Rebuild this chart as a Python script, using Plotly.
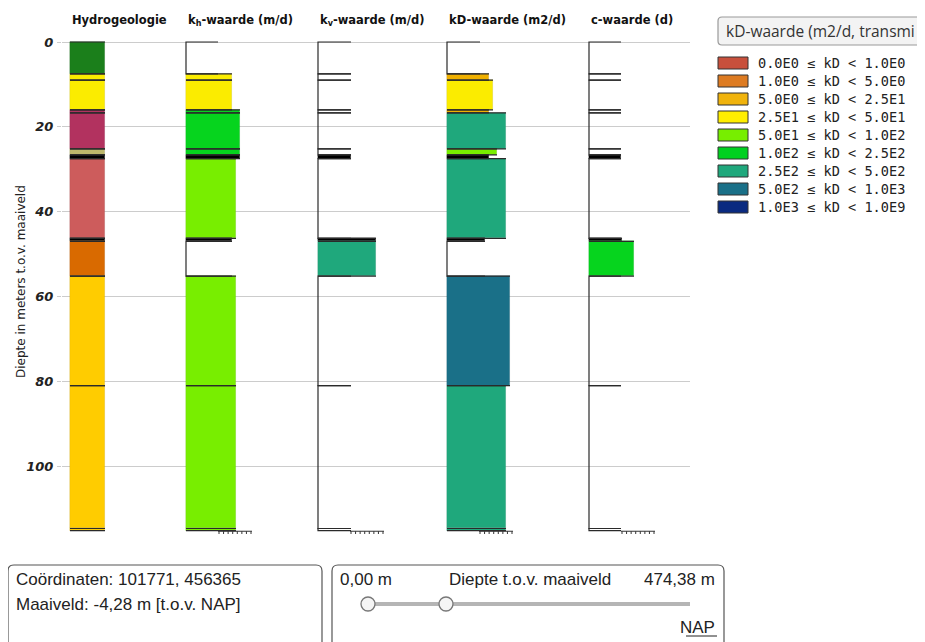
import plotly.graph_objects as go
import numpy as np

# ---------------- data ----------------
layer_top = [0.0, 7.5, 9.0, 16.0, 16.7, 25.2, 26.6, 27.5, 46.3, 47.0, 55.2, 81.0, 114.7]
layer_bot = [7.5, 9.0, 16.0, 16.7, 25.2, 26.6, 27.5, 46.3, 47.0, 55.2, 81.0, 114.7, 115.2]

column_titles = ["Hydrogeologie", "k<sub>h</sub>-waarde (m/d)", "k<sub>v</sub>-waarde (m/d)",
                 "kD-waarde (m2/d)", "c-waarde (d)"]
column_left = [70, 186, 318, 447, 589]

hydro_colors = ["#1b7f1b", "#fbec00", "#fbec00", "#b2325f", "#b2325f", "#bdb86c", "#000000",
                "#cd5c5c", "#000000", "#d96a00", "#ffcc00", "#ffcc00", "#ffcc00"]
hydro_len = [35] * 13

kh_colors = ["white", "#fbec00", "#fbec00", "#06d41e", "#06d41e", "#06d41e", "#000000",
             "#78ee00", "#000000", "white", "#78ee00", "#78ee00", "#78ee00"]
kh_len = [32, 46, 46, 54, 54, 54, 54, 50, 46, 46, 50, 50, 50]

kv_colors = ["white", "white", "white", "white", "white", "white", "#000000",
             "white", "#000000", "#1fa87c", "white", "white", "white"]
kv_len = [33, 33, 33, 33, 33, 33, 33, 33, 58, 58, 33, 33, 33]

kd_colors = ["white", "#f0b000", "#fbec00", "#f0b000", "#1fa87c", "#78ee00", "#000000",
             "#1fa87c", "#000000", "white", "#1a7088", "#1fa87c", "#1fa87c"]
kd_len = [33, 42, 46, 42, 59, 50, 42, 59, 38, 38, 63, 59, 59]

c_colors = ["white", "white", "white", "white", "white", "white", "#000000",
            "white", "#000000", "#06d41e", "white", "white", "white"]
c_len = [32, 32, 32, 32, 32, 32, 32, 32, 33, 45, 32, 32, 32]

columns = [(hydro_colors, hydro_len), (kh_colors, kh_len), (kv_colors, kv_len),
           (kd_colors, kd_len), (c_colors, c_len)]

y_ticks = [0, 20, 40, 60, 80, 100]

legend_title = "kD-waarde (m2/d, transmi"
legend_colors = ["#c8503c", "#dd7b22", "#f0b30c", "#ffee00", "#77ee00", "#00d020",
                 "#1fa87c", "#1a7088", "#0a2a80"]
legend_bounds = ["0.0E0", "1.0E0", "5.0E0", "2.5E1", "5.0E1", "1.0E2", "2.5E2",
                 "5.0E2", "1.0E3", "1.0E9"]

# ---------------- geometry helpers (screen pixels) ----------------
OFF = 8                       # page body margin
L, T, R, B = 62, 37, 690, 534
W, H = R - L, B - T
FW, FH = 925 - OFF, 642 - OFF


def px(x):
    return (x - L) / W


def py(y):
    return 1 - (y - T) / H


def rrect(x0, y0, x1, y1, r):
    pts = [
        f"M {px(x0 + r)} {py(y0)}",
        f"L {px(x1 - r)} {py(y0)}",
        f"Q {px(x1)} {py(y0)} {px(x1)} {py(y0 + r)}",
        f"L {px(x1)} {py(y1 - r)}",
        f"Q {px(x1)} {py(y1)} {px(x1 - r)} {py(y1)}",
        f"L {px(x0 + r)} {py(y1)}",
        f"Q {px(x0)} {py(y1)} {px(x0)} {py(y1 - r)}",
        f"L {px(x0)} {py(y0 + r)}",
        f"Q {px(x0)} {py(y0)} {px(x0 + r)} {py(y0)}",
        "Z",
    ]
    return " ".join(pts)


fig = go.Figure()

top = np.array(layer_top)
bot = np.array(layer_bot)
mid = (top + bot) / 2
thick = bot - top

for ci, ((cols, lens), left) in enumerate(zip(columns, column_left)):
    idx = [i for i, c in enumerate(cols) if c != "white"]
    fig.add_trace(go.Bar(
        orientation="h",
        y=[mid[i] for i in idx],
        x=[lens[i] for i in idx],
        base=left,
        width=[thick[i] for i in idx],
        marker=dict(color=[cols[i] for i in idx],
                    line=dict(color="rgba(0,0,0,0.12)", width=0.6)),
        hoverinfo="skip", showlegend=False,
    ))
    # horizontal boundary lines of every layer, vertical edge for empty layers
    xs, ys = [], []
    for i, c in enumerate(cols):
        if c == "white":
            xs += [left + lens[i], left, left, left + lens[i], None]
            ys += [layer_top[i], layer_top[i], layer_bot[i], layer_bot[i], None]
        else:
            xs += [left, left + lens[i], None, left, left + lens[i], None]
            ys += [layer_top[i], layer_top[i], None, layer_bot[i], layer_bot[i], None]
    fig.add_trace(go.Scatter(x=xs, y=ys, mode="lines",
                             line=dict(color="#2a2a2a", width=1.2),
                             hoverinfo="skip", showlegend=False))
    if ci == 0:
        continue
    # small comb ruler at the base of each value column
    r0 = left + 32
    rx = [r0, r0 + 34, None]
    ry = [115.35, 115.35, None]
    for tx in np.linspace(r0 + 1, r0 + 33, 8):
        rx += [tx, tx, None]
        ry += [115.35, 116.0, None]
    fig.add_trace(go.Scatter(x=rx, y=ry, mode="lines",
                             line=dict(color="#333333", width=1),
                             hoverinfo="skip", showlegend=False))

annotations = []
for title, left in zip(column_titles, column_left):
    annotations.append(dict(x=left, xref="x", y=py(20), yref="paper", text=title,
                            showarrow=False, xanchor="left", yanchor="middle",
                            font=dict(family="DejaVu Sans", size=11.5, color="#111111",
                                      weight="bold")))

annotations.append(dict(x=px(12), y=py(282), xref="paper", yref="paper",
                        text="Diepte in meters t.o.v. maaiveld", textangle=-90,
                        showarrow=False, font=dict(family="DejaVu Sans", size=12,
                                                   color="#222222")))

shapes = []
# dropdown box of legend
shapes.append(dict(type="path", path=rrect(718, 17, 960, 45, 4), xref="paper", yref="paper",
                   fillcolor="#f3f3f3", line=dict(color="#9a9a9a", width=1.2), layer="above"))
annotations.append(dict(x=px(724), y=py(31), xref="paper", yref="paper",
                        text=legend_title, showarrow=False,
                        xanchor="left", yanchor="middle",
                        font=dict(family="Open Sans", size=15.5, color="#333333")))

for i, col in enumerate(legend_colors):
    yc = 63 + 18 * i
    shapes.append(dict(type="rect", xref="paper", yref="paper",
                       x0=px(718), x1=px(748), y0=py(yc - 6), y1=py(yc + 6),
                       fillcolor=col, line=dict(color="#333333", width=1)))
    annotations.append(dict(x=px(756), y=py(yc), xref="paper", yref="paper",
                            text=f"{legend_bounds[i]} ≤ kD < {legend_bounds[i + 1]}",
                            showarrow=False, xanchor="left", yanchor="middle",
                            font=dict(family="DejaVu Sans Mono", size=13.6, color="#222222")))

# bottom panels
shapes.append(dict(type="path", path=rrect(8, 565, 322, 660, 6), xref="paper", yref="paper",
                   fillcolor="white", line=dict(color="#555555", width=1.2)))
shapes.append(dict(type="path", path=rrect(332, 565, 724, 660, 6), xref="paper", yref="paper",
                   fillcolor="white", line=dict(color="#555555", width=1.2)))

panel_font = dict(family="Liberation Sans", size=17, color="#222222")
annotations += [
    dict(x=px(14), y=py(579), text="Coördinaten: 101771, 456365", xanchor="left"),
    dict(x=px(14), y=py(604), text="Maaiveld: -4,28 m [t.o.v. NAP]", xanchor="left"),
    dict(x=px(338), y=py(579), text="0,00 m", xanchor="left"),
    dict(x=px(530), y=py(579), text="Diepte t.o.v. maaiveld", xanchor="center"),
    dict(x=px(717), y=py(579), text="474,38 m", xanchor="right"),
    dict(x=px(717), y=py(627), text="NAP", xanchor="right"),
]
for a in annotations[-6:]:
    a.update(xref="paper", yref="paper", showarrow=False, yanchor="middle", font=panel_font)

# slider
shapes.append(dict(type="line", xref="paper", yref="paper", x0=px(368), x1=px(690),
                   y0=py(604), y1=py(604), line=dict(color="#b5b5b5", width=4)))
for cx in (368, 446):
    shapes.append(dict(type="circle", xref="paper", yref="paper",
                       x0=px(cx - 7), x1=px(cx + 7), y0=py(597), y1=py(611),
                       fillcolor="#f5f5f5", line=dict(color="#777777", width=1.3)))
shapes.append(dict(type="line", xref="paper", yref="paper", x0=px(686), x1=px(717),
                   y0=py(636), y1=py(636), line=dict(color="#222222", width=1)))

fig.update_layout(
    width=FW, height=FH,
    margin=dict(l=L - OFF, r=FW - (R - OFF), t=T - OFF, b=FH - (B - OFF), pad=0),
    paper_bgcolor="white", plot_bgcolor="white",
    barmode="overlay", bargap=0,
    showlegend=False,
    xaxis=dict(range=[L, R], visible=False, showgrid=False, zeroline=False, fixedrange=True),
    yaxis=dict(range=[116, -1.179], tickvals=y_ticks, ticktext=[str(v) for v in y_ticks],
               showgrid=True, gridcolor="#cccccc", gridwidth=1, zeroline=False,
               showline=False, ticks="outside", ticklen=4, tickcolor="#cccccc",
               tickfont=dict(family="DejaVu Sans", size=13, color="#222222",
                             weight="bold", style="italic"),
               ticklabelstandoff=1),
    annotations=annotations,
    shapes=shapes,
)

fig.write_html("out.html")
